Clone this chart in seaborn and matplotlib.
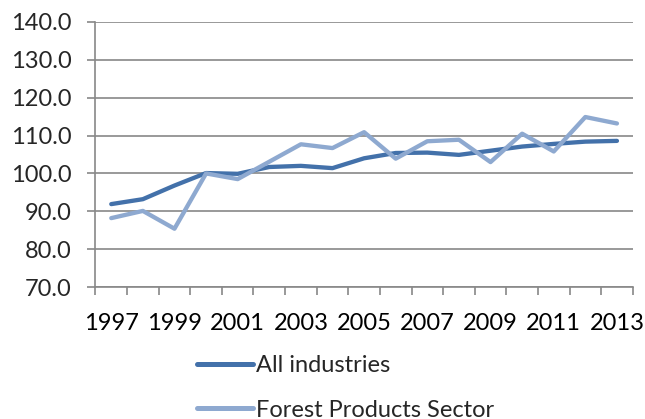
import pandas as pd
import seaborn as sns
import matplotlib.pyplot as plt

years = list(range(1997, 2014))
all_industries = [91.9, 93.2, 96.8, 100.1, 99.9, 101.7, 102.0, 101.4, 104.0,
                  105.4, 105.5, 104.9, 106.0, 107.1, 107.8, 108.4, 108.6]
forest_products = [88.2, 90.1, 85.4, 100.0, 98.5, 103.1, 107.7, 106.7, 110.9,
                   103.9, 108.5, 108.9, 103.0, 110.5, 105.8, 114.9, 113.2]
series_names = ['All industries', 'Forest Products Sector']
colors = ['#4371AA', '#8EA9D0']

df = pd.DataFrame({'year': years, series_names[0]: all_industries,
                   series_names[1]: forest_products})
long = df.melt(id_vars='year', var_name='series', value_name='value')

sns.set_style('white')
plt.rcParams['font.family'] = ['Lato', 'DejaVu Sans']
fs = 17

fig = plt.figure(figsize=(6.45, 4.19), dpi=100)
ax = fig.add_axes([0.148, 0.315, 0.833, 0.6325])

sns.lineplot(data=long, x='year', y='value', hue='series', hue_order=series_names,
             palette=colors, linewidth=3.1, ax=ax, legend=False)

grid_c = '#888888'
ax.set_ylim(70, 140)
ax.set_yticks(range(70, 141, 10))
ax.set_yticklabels([f'{v:.1f}' for v in range(70, 141, 10)])
ax.yaxis.grid(True, color=grid_c, linewidth=1.2)
ax.set_axisbelow(True)

ax.set_xlim(years[0] - 0.5, years[-1] + 0.5)
ax.set_xticks(years[::2])
ax.set_xticks([y - 0.5 for y in years] + [years[-1] + 0.5], minor=True)
ax.tick_params(axis='x', which='major', length=0, pad=18.5, labelsize=fs, colors='black')
ax.tick_params(axis='x', which='minor', length=6, width=1.2, color=grid_c)
ax.tick_params(axis='y', length=6, width=1.2, color=grid_c, pad=11, labelsize=fs)
ax.tick_params(axis='y', which='both', left=True)
ax.tick_params(axis='x', which='minor', bottom=True)

for side in ['top', 'right']:
    ax.spines[side].set_visible(False)
for side in ['left', 'bottom']:
    ax.spines[side].set_color(grid_c)
    ax.spines[side].set_linewidth(1.2)

ax.set_xlabel('')
ax.set_ylabel('')

handles = [plt.Line2D([], [], color=c, linewidth=3.6, solid_capstyle='round') for c in colors]
fig.legend(handles, series_names, loc='upper left', bbox_to_anchor=(0.305, 0.153),
           frameon=False, fontsize=fs, handlelength=2.4, handletextpad=0.13,
           labelspacing=1.0, borderpad=0, borderaxespad=0)

fig.savefig('out.png', dpi=100)
